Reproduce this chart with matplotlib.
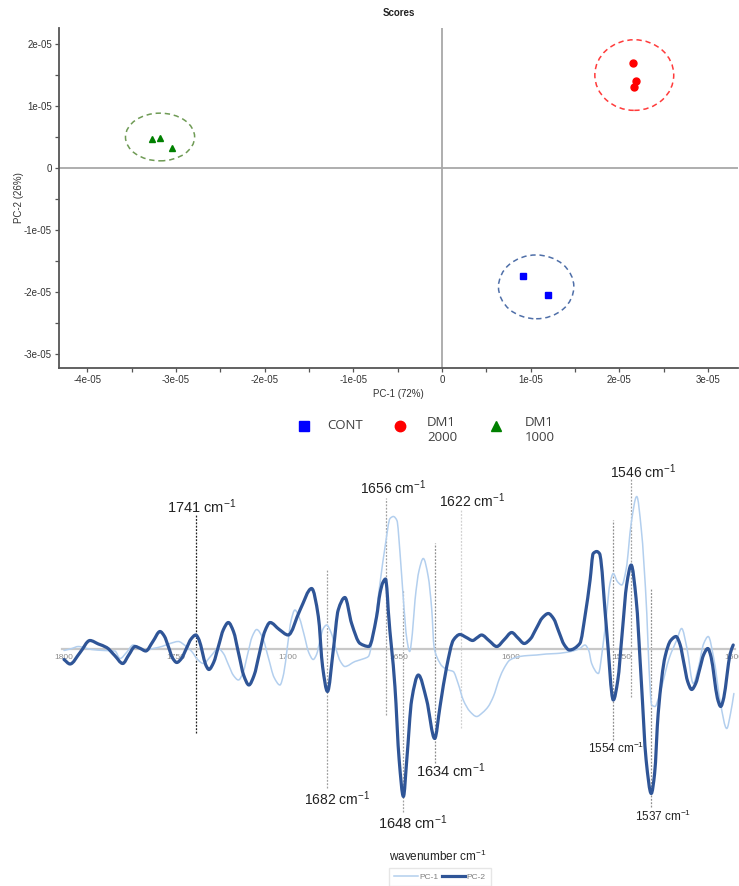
import matplotlib
matplotlib.use('Agg')
import numpy as np
import matplotlib.pyplot as plt
from matplotlib.patches import Ellipse, PathPatch
from matplotlib.lines import Line2D
from matplotlib.path import Path
from matplotlib.ticker import MultipleLocator

plt.rcParams['font.family'] = ['Liberation Sans', 'DejaVu Sans']
plt.rcParams['mathtext.default'] = 'regular'

# ---------------- PCA scores ----------------
cont_pc1 = [0.917e-5, 1.20e-5]
cont_pc2 = [-1.75e-5, -2.05e-5]
dm2000_pc1 = [2.157e-5, 2.19e-5, 2.165e-5]
dm2000_pc2 = [1.69e-5, 1.40e-5, 1.31e-5]
dm1000_pc1 = [-3.27e-5, -3.18e-5, -3.04e-5]
dm1000_pc2 = [4.6e-6, 4.9e-6, 3.2e-6]

# group ellipses: centre x, centre y, width, height
ell_cx = [1.063e-5, 2.17e-5, -3.18e-5]
ell_cy = [-1.92e-5, 1.50e-5, 5.0e-6]
ell_w = [8.5e-6, 8.9e-6, 7.8e-6]
ell_h = [1.03e-5, 1.14e-5, 7.7e-6]
ell_colors = ['#4f6fa8', '#ff3b3b', '#6f9b55']

x_ticks = [-4e-5, -3e-5, -2e-5, -1e-5, 0, 1e-5, 2e-5, 3e-5]
x_tick_labels = ['-4e-05', '-3e-05', '-2e-05', '-1e-05', '0', '1e-05', '2e-05', '3e-05']
y_ticks = [-3e-5, -2e-5, -1e-5, 0, 1e-5, 2e-5]
y_tick_labels = ['-3e-05', '-2e-05', '-1e-05', '0', '1e-05', '2e-05']

# ---------------- loadings spectra ----------------
pc2_wn = [1800, 1797.3, 1792.8, 1788.4, 1784.6, 1780.9, 1777.3, 1773.7, 1771.0, 1768.2,
          1765.8, 1763.4, 1760.2, 1757.0, 1755.1, 1753.2, 1751.4, 1749.5, 1747.4, 1745.2,
          1743.1, 1741.0, 1739.5, 1738.0, 1736.6, 1735.1, 1733.0, 1730.8, 1728.6, 1726.4,
          1724.1, 1721.8, 1719.5, 1717.2, 1714.9, 1712.5, 1710.1, 1707.7, 1703.6, 1699.6,
          1694.3, 1689.1, 1686.1, 1684.2, 1682.0, 1679.4, 1677.2, 1674.2, 1671.2, 1667.4,
          1663.5, 1660.0, 1658.5, 1657.2, 1656.0, 1655.4, 1654.8, 1651.8, 1649.9, 1648.0,
          1646.5, 1644.3, 1641.3, 1637.6, 1634.0, 1631.6, 1628.6, 1625.6, 1622.7, 1619.8,
          1617.0, 1615.0, 1613.0, 1609.6, 1606.2, 1602.8, 1599.5, 1596.7, 1593.9, 1591.2,
          1588.5, 1585.8, 1583.1, 1580.7, 1578.4, 1576.0, 1573.7, 1569.0, 1566.5, 1564.4,
          1563.0, 1561.4, 1560.2, 1557.0, 1554.0, 1552.0, 1550.0, 1548.0, 1546.0, 1543.8,
          1541.5, 1539.3, 1537.0, 1535.5, 1533.9, 1530.8, 1528.3, 1525.9, 1524.1, 1522.4,
          1520.7, 1518.9, 1517.1, 1515.3, 1513.5, 1511.7, 1510.2, 1508.8, 1507.4, 1505.9,
          1504.5, 1503.1, 1501.7, 1500.3]
pc2_val = [-0.11, -0.155, -0.04, 0.08, 0.045, 0.01, -0.07, -0.15, -0.065, 0.02,
           0.0, -0.025, 0.07, 0.17, 0.125, 0.015, -0.095, -0.14, -0.10, 0.0,
           0.095, 0.135, 0.085, -0.04, -0.16, -0.21, -0.14, 0.025, 0.19, 0.26,
           0.17, -0.05, -0.27, -0.365, -0.27, -0.05, 0.17, 0.26, 0.19, 0.135,
           0.385, 0.60, 0.32, -0.18, -0.43, -0.015, 0.385, 0.51, 0.25, 0.05,
           0.02, 0.32, 0.55, 0.66, 0.695, 0.60, 0.385, -0.38, -1.115, -1.48,
           -1.115, -0.515, -0.265, -0.515, -0.90, -0.58, -0.18, 0.085, 0.14, 0.11,
           0.08, 0.108, 0.135, 0.078, 0.02, 0.09, 0.16, 0.105, 0.05, 0.094,
           0.20, 0.306, 0.35, 0.297, 0.168, 0.038, -0.015, 0.05, 0.35, 0.685,
           0.95, 0.97, 0.95, 0.185, -0.515, -0.32, 0.16, 0.64, 0.835, 0.50,
           -0.31, -1.115, -1.45, -1.25, -0.65, -0.08, 0.08, 0.12, 0.04, -0.145,
           -0.33, -0.41, -0.35, -0.205, -0.06, 0.0, -0.085, -0.29, -0.495, -0.58,
           -0.49, -0.27, -0.055, 0.035]

pc1_wn = [1800, 1796.5, 1793.6, 1790.5, 1787.6, 1782.0, 1777.2, 1774.9, 1772.0, 1769.0,
          1766.3, 1763.7, 1760.0, 1756.2, 1752.5, 1748.8, 1745.8, 1742.8, 1740.2, 1737.6,
          1734.2, 1730.9, 1728.6, 1726.4, 1724.1, 1721.9, 1719.8, 1717.8, 1715.7, 1713.7,
          1711.1, 1708.5, 1705.9, 1703.3, 1701.6, 1700.0, 1698.3, 1696.6, 1694.5, 1692.5,
          1690.4, 1688.4, 1686.9, 1685.4, 1683.9, 1682.4, 1680.4, 1678.3, 1676.2, 1674.2,
          1669.7, 1665.5, 1663.7, 1661.1, 1658.5, 1656.0, 1654.0, 1652.5, 1650.9, 1649.5,
          1648.0, 1646.5, 1645.2, 1644.0, 1642.8, 1641.0, 1639.1, 1636.9, 1635.3, 1634.3,
          1633.1, 1630.5, 1627.9, 1625.7, 1623.5, 1621.2, 1618.2, 1615.2, 1612.5, 1610.0,
          1607.7, 1605.0, 1603.0, 1600.3, 1596.0, 1592.0, 1588.3, 1584.0, 1579.4, 1573.0,
          1569.0, 1566.7, 1565.0, 1563.7, 1560.7, 1558.8, 1557.0, 1555.5, 1554.0, 1552.2,
          1550.2, 1548.2, 1546.0, 1543.5, 1541.5, 1539.0, 1538.0, 1536.8, 1535.3, 1533.8,
          1532.3, 1529.0, 1525.6, 1523.4, 1521.0, 1518.2, 1516.0, 1513.5, 1511.5, 1509.0,
          1506.0, 1503.2, 1501.5, 1500.0]
pc1_val = [-0.02, 0.0, 0.02, 0.005, -0.01, -0.02, -0.025, -0.10, -0.04, 0.035,
           0.01, -0.02, 0.0, 0.02, 0.05, 0.07, 0.03, -0.03, -0.11, -0.15,
           -0.075, 0.0, -0.05, -0.16, -0.27, -0.315, -0.24, -0.06, 0.12, 0.19,
           0.11, -0.09, -0.29, -0.365, -0.25, 0.01, 0.28, 0.385, 0.30, 0.14,
           -0.04, -0.11, -0.06, 0.08, 0.20, 0.235, 0.16, 0.0, -0.13, -0.18,
           -0.13, -0.10, -0.08, 0.20, 0.65, 1.05, 1.30, 1.32, 1.28, 0.95,
           0.485, 0.10, -0.03, 0.15, 0.485, 0.78, 0.90, 0.72, 0.385, 0.02,
           -0.08, -0.18, -0.215, -0.23, -0.35, -0.515, -0.63, -0.68, -0.64, -0.58,
           -0.48, -0.30, -0.20, -0.115, -0.08, -0.07, -0.065, -0.055, -0.05, -0.03,
           0.0, 0.035, -0.02, -0.15, -0.25, 0.0, 0.35, 0.65, 0.75, 0.67,
           0.635, 0.80, 1.25, 1.52, 1.20, 0.35, -0.20, -0.565, -0.58, -0.50,
           -0.38, -0.10, 0.085, 0.20, 0.0, -0.35, -0.20, 0.05, 0.12, -0.10,
           -0.55, -0.80, -0.65, -0.45]

spec_ticks = [1800, 1750, 1700, 1650, 1600, 1550, 1500]
spec_tick_labels = ['1800', '1750', '1700', '1650', '1600', '1550', '1500']

# marked bands: wavenumber, line top, line bottom, label x, label y, font size, line colour
band_wn = [1741, 1682, 1656, 1648, 1634, 1622, 1554, 1546, 1537]
band_top = [1.335, 0.785, 1.505, 0.585, 1.055, 1.385, 1.285, 1.705, 0.605]
band_bot = [-0.845, -1.398, -0.665, -1.632, -1.145, -0.795, -0.915, -0.482, -1.582]
band_lx = [1738.2, 1677.7, 1652.7, 1643.7, 1626.7, 1617.3, 1552.8, 1540.7, 1531.7]
band_ly = [1.418, -1.498, 1.605, -1.742, -1.222, 1.478, -0.995, 1.768, -1.675]
band_fs = [10.5, 10, 10, 10.5, 10.5, 10, 8.5, 10, 8.5]
band_lc = ['#222222', '#a0a0a0', '#a0a0a0', '#a0a0a0', '#909090', '#d0d0d0',
           '#909090', '#a0a0a0', '#909090']


def smooth_path(x, y):
    """Monotone cubic (Bezier) path through the given points."""
    x = np.asarray(x, float)
    y = np.asarray(y, float)
    d = np.diff(y) / np.diff(x)
    m = np.zeros_like(x)
    m[0], m[-1] = d[0], d[-1]
    for i in range(1, len(x) - 1):
        if d[i - 1] * d[i] > 0:
            h0, h1 = x[i] - x[i - 1], x[i + 1] - x[i]
            w1, w2 = 2 * h1 + h0, h1 + 2 * h0
            m[i] = (w1 + w2) / (w1 / d[i - 1] + w2 / d[i])
    verts = [(x[0], y[0])]
    codes = [Path.MOVETO]
    for i in range(len(x) - 1):
        h = x[i + 1] - x[i]
        verts += [(x[i] + h / 3, y[i] + m[i] * h / 3),
                  (x[i + 1] - h / 3, y[i + 1] - m[i + 1] * h / 3),
                  (x[i + 1], y[i + 1])]
        codes += [Path.CURVE4] * 3
    return Path(verts, codes)


W, H = 739, 886
fig = plt.figure(figsize=(W / 100, H / 100), dpi=100)

# ======== scores plot ========
ax1 = fig.add_axes([59 / W, 1 - 368 / H, 679 / W, 340 / H])
ax1.set_xlim(-4.32e-5, 3.34e-5)
ax1.set_ylim(-3.23e-5, 2.26e-5)
ax1.axhline(0, color='#a8a8a8', lw=1.3, zorder=1)
ax1.axvline(0, color='#a8a8a8', lw=1.3, zorder=1)

for cx, cy, w, h, c in zip(ell_cx, ell_cy, ell_w, ell_h, ell_colors):
    ax1.add_patch(Ellipse((cx, cy), w, h, fill=False, ls=(0, (3.5, 2.5)), lw=1.1, ec=c, zorder=2))

ax1.plot(cont_pc1, cont_pc2, ls='none', marker='s', ms=5, color='#0000ff', zorder=3)
ax1.plot(dm2000_pc1, dm2000_pc2, ls='none', marker='o', ms=5, color='#ff0000', zorder=3)
ax1.plot(dm1000_pc1, dm1000_pc2, ls='none', marker='^', ms=5, color='#008000', zorder=3)

ax1.set_xticks(x_ticks)
ax1.set_xticklabels(x_tick_labels)
ax1.set_yticks(y_ticks)
ax1.set_yticklabels(y_tick_labels)
ax1.xaxis.set_minor_locator(MultipleLocator(5e-6))
ax1.yaxis.set_minor_locator(MultipleLocator(5e-6))
ax1.tick_params(which='both', direction='out', length=3, width=0.9, color='#555555',
                labelsize=7, labelcolor='#333333', pad=2)
for s in ['top', 'right']:
    ax1.spines[s].set_visible(False)
for s in ['left', 'bottom']:
    ax1.spines[s].set_color('#555555')
    ax1.spines[s].set_linewidth(1.3)
ax1.set_xlabel('PC-1 (72%)', fontsize=7, color='#333333', labelpad=3)
ax1.set_ylabel('PC-2 (26%)', fontsize=7, color='#333333', labelpad=0)
ax1.set_title('Scores', fontsize=7, fontweight='bold', color='#222222', pad=9)

# legend for the scores plot
leg_y = 1 - 426 / H
leg_marker_x = [304 / W, 400 / W, 496 / W]
leg_text_x = [327 / W, 427 / W, 525 / W]
leg_markers = ['s', 'o', '^']
leg_colors = ['#0000ff', '#ff0000', '#008000']
leg_labels = ['CONT', 'DM1\n2000', 'DM1\n1000']
for mx, tx, m, c, lab in zip(leg_marker_x, leg_text_x, leg_markers, leg_colors, leg_labels):
    fig.add_artist(Line2D([mx], [leg_y], transform=fig.transFigure, marker=m, ms=7.5,
                          color=c, ls='none'))
    dy = 0 if '\n' not in lab else -0.0045
    fig.text(tx, leg_y + dy, lab, ha='left', va='center', fontsize=9.5, color='#404040',
             family=['Open Sans', 'DejaVu Sans'], linespacing=1.2)

# ======== loadings plot ========
ax2 = fig.add_axes([62 / W, 1 - 830 / H, 673 / W, 360 / H])
ax2.set_xlim(1800.9, 1499.5)
ax2.set_ylim(-1.815, 1.785)
for s in ['top', 'right', 'left']:
    ax2.spines[s].set_visible(False)
ax2.spines['bottom'].set_position(('data', 0))
ax2.spines['bottom'].set_color('#c8c8c8')
ax2.spines['bottom'].set_linewidth(1.6)
ax2.set_yticks([])
ax2.set_xticks(spec_ticks)
ax2.set_xticklabels(spec_tick_labels)
ax2.tick_params(axis='x', length=0, labelsize=6, labelcolor='#8c8c8c', pad=4)

for wn, t, b, lx, ly, fs, lc in zip(band_wn, band_top, band_bot, band_lx, band_ly, band_fs, band_lc):
    ax2.plot([wn, wn], [b, t], color=lc, lw=0.9, ls=(0, (1.5, 1.2)), zorder=1)
    ax2.text(lx, ly, f'{wn} cm$^{{-1}}$', ha='center', va='center', fontsize=fs,
             color='#222222', clip_on=False)

pc1_color, pc2_color = '#b3cfee', '#2f5597'
ax2.add_patch(PathPatch(smooth_path(pc1_wn, pc1_val), fill=False, ec=pc1_color, lw=1.1,
                        zorder=3, joinstyle='round', capstyle='round'))
ax2.add_patch(PathPatch(smooth_path(pc2_wn, pc2_val), fill=False, ec=pc2_color, lw=2.3,
                        zorder=4, joinstyle='round', capstyle='round'))

fig.text(438 / W, 1 - 856 / H, 'wavenumber cm$^{-1}$', ha='center', va='center',
         fontsize=8.5, color='#222222')
h1 = Line2D([], [], color=pc1_color, lw=1.1)
h2 = Line2D([], [], color=pc2_color, lw=2.3)
fig.legend([h1, h2], ['PC-1', 'PC-2'], loc='center', bbox_to_anchor=(440 / W, 1 - 877 / H),
           ncol=2, fontsize=6, frameon=True, fancybox=False, edgecolor='#e0e0e0',
           handlelength=2.8, handletextpad=0.2, columnspacing=0.4, labelcolor='#7f7f7f',
           borderpad=0.6)

fig.savefig('out.png', dpi=100)
